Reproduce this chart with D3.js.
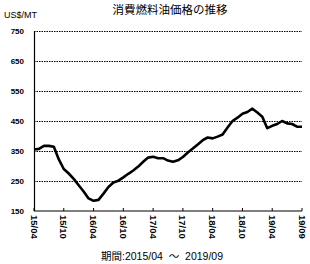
<!DOCTYPE html>
<html>
<head>
<meta charset="utf-8">
<script src="https://cdn.jsdelivr.net/npm/d3@7"></script>
<style>
  body { margin: 0; background: #fff; }
  svg { display: block; }
  text { font-family: "Liberation Sans", Arial, sans-serif; fill: #000; }
  .jp { font-family: "Noto Sans CJK JP", sans-serif; }
  .mix { font-family: "Liberation Sans", "Noto Sans CJK JP", sans-serif; }
</style>
</head>
<body>
<div id="graph"></div>
<script>
// monthly bunker price, 2015/04 .. (index 0..54)
var prices = [355, 357, 367, 367, 364, 322, 290, 275, 257, 236,
              215, 192, 184, 187, 208, 230, 245, 251, 262, 274,
              285, 298, 314, 328, 331, 326, 326, 318, 314, 319,
              330, 345, 358, 372, 386, 395, 392, 398, 405, 428,
              450, 461, 474, 480, 491, 478, 464, 426, 434, 440,
              450, 442, 440, 431, 431]
var tickPos = [0, 6, 12, 18, 24, 30, 36, 42, 48, 54]
var tickLabels = ["15/04", "15/10", "16/04", "16/10", "17/04", "17/10", "18/04", "18/10", "19/04", "19/09"]
var yTicks = [150, 250, 350, 450, 550, 650, 750]

var width = 310, height = 264
var margin = {top: 31, left: 34, bottom: 53, right: 8}
var chartWidth = width - margin.left - margin.right
var chartHeight = height - margin.top - margin.bottom

var svg = d3.select("#graph").append("svg")
    .attr("width", width).attr("height", height)

var x = d3.scaleLinear().domain([0, 54]).range([margin.left, margin.left + chartWidth])
var y = d3.scaleLinear().domain([150, 750]).range([margin.top + chartHeight, margin.top])

// title
svg.append("text").attr("class", "jp")
    .attr("x", 170).attr("y", 14)
    .attr("text-anchor", "middle")
    .attr("font-size", "11.5px")
    .text("消費燃料油価格の推移")

svg.append("text")
    .attr("x", 4).attr("y", 18)
    .attr("font-size", "9px")
    .text("US$/MT")

// grid lines
svg.append("g").selectAll("line")
    .data(yTicks.filter(function(d) { return d > 150 }))
    .enter().append("line")
    .attr("x1", x(0)).attr("x2", x(54))
    .attr("y1", function(d) { return Math.round(y(d)) + 0.5 })
    .attr("y2", function(d) { return Math.round(y(d)) + 0.5 })
    .attr("stroke", "#000")
    .attr("stroke-width", 1)
    .attr("stroke-dasharray", "1.5,1")

// y labels
svg.append("g").selectAll("text")
    .data(yTicks)
    .enter().append("text")
    .attr("x", 24).attr("y", function(d) { return y(d) + 3 })
    .attr("text-anchor", "end")
    .attr("font-size", "8px")
    .attr("font-weight", "bold")
    .text(function(d) { return d })

// axes lines
svg.append("line")
    .attr("x1", x(0) + 0.5).attr("x2", x(0) + 0.5)
    .attr("y1", y(750)).attr("y2", y(150))
    .attr("stroke", "#000").attr("stroke-width", 1.2)
svg.append("line")
    .attr("x1", x(0)).attr("x2", x(54))
    .attr("y1", y(150)).attr("y2", y(150))
    .attr("stroke", "#000").attr("stroke-width", 1.2)

// x ticks (pointing up)
svg.append("g").selectAll("line")
    .data(tickPos)
    .enter().append("line")
    .attr("x1", function(d) { return x(d) }).attr("x2", function(d) { return x(d) })
    .attr("y1", y(150)).attr("y2", y(150) - 3)
    .attr("stroke", "#000")

// x labels rotated
svg.append("g").selectAll("text")
    .data(tickPos)
    .enter().append("text")
    .attr("transform", function(d) { return "translate(" + (x(d) - 3.5) + "," + (y(150) + 4) + ") rotate(90)" })
    .attr("font-size", "9.5px")
    .attr("font-weight", "bold")
    .text(function(d, i) { return tickLabels[i] })

// price line
var line = d3.line()
    .x(function(d, i) { return x(i) })
    .y(function(d) { return y(d) })

svg.append("path")
    .datum(prices)
    .attr("d", line)
    .attr("fill", "none")
    .attr("stroke", "#000")
    .attr("stroke-width", 2.6)
    .attr("stroke-linejoin", "round")

// period note
svg.append("text").attr("class", "mix")
    .attr("x", 162).attr("y", 260)
    .attr("text-anchor", "middle")
    .attr("font-size", "10.5px")
    .style("white-space", "pre")
    .text("期間:2015/04  ～  2019/09")
</script>
</body>
</html>
